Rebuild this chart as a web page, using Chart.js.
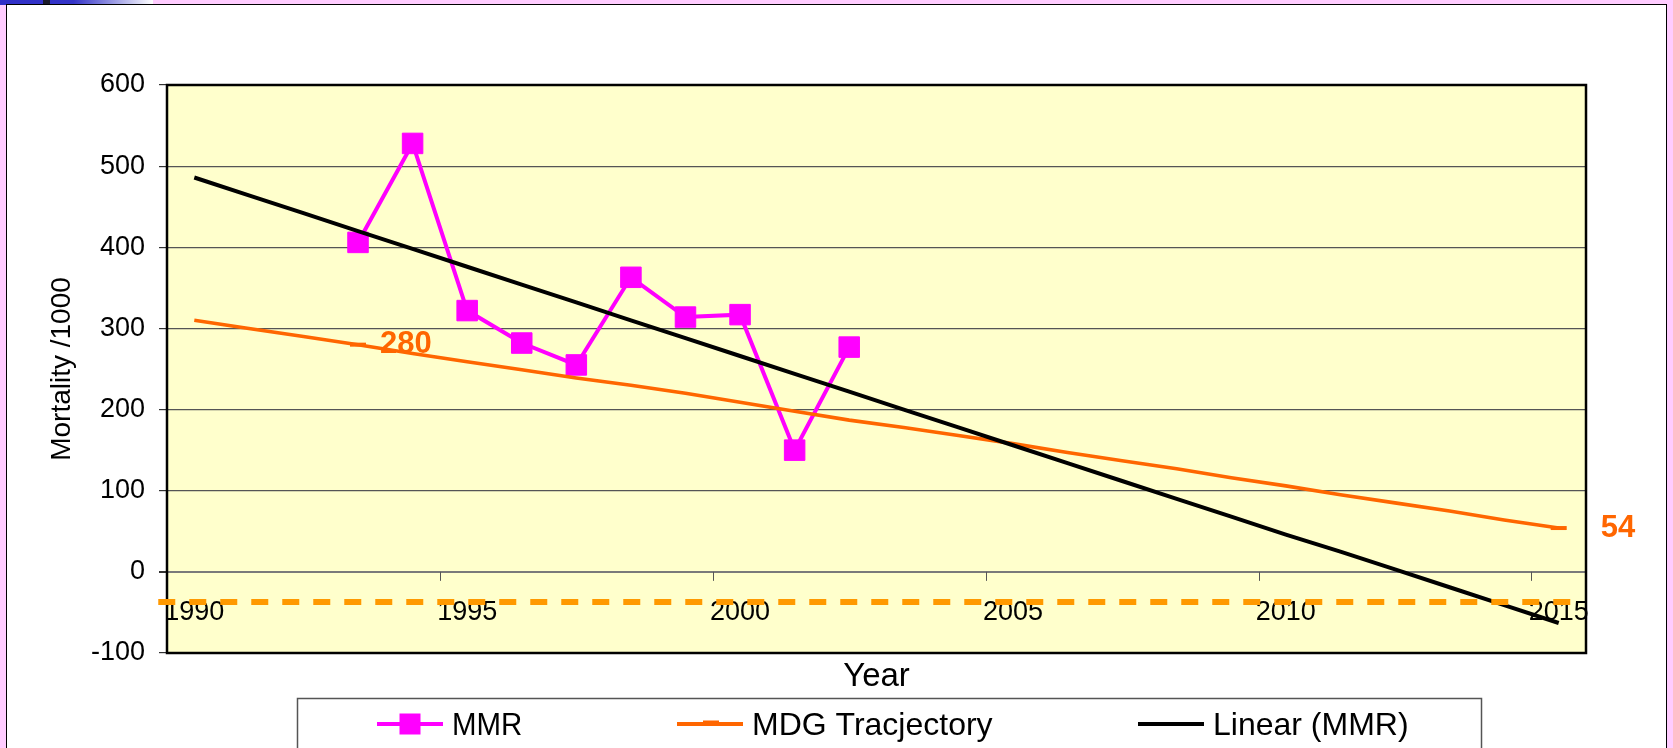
<!DOCTYPE html>
<html><head><meta charset="utf-8">
<script src="https://cdn.jsdelivr.net/npm/chart.js@4.4.1/dist/chart.umd.min.js"></script>
<style>
html,body{margin:0;padding:0;width:1673px;height:748px;overflow:hidden;background:#FFCCFF;}
#bar{position:absolute;left:0;top:0;width:153px;height:5px;background:linear-gradient(to right,#3030C8 0%,#3434C8 48%,#ffffff 100%);}
#bar2{position:absolute;left:43px;top:0;width:7px;height:5px;background:#1a1a2a;}
#panel{position:absolute;left:6px;top:4px;width:1659px;height:800px;background:#fff;border:1px solid #000;}
canvas{position:absolute;left:0;top:0;}
</style></head><body>
<div id="bar"></div><div id="bar2"></div><div id="panel"></div>
<canvas id="c" width="1673" height="748"></canvas>
<script>
// ---- data ----
const years = [1990,1991,1992,1993,1994,1995,1996,1997,1998,1999,2000,2001,2002,2003,2004,2005,2006,2007,2008,2009,2010,2011,2012,2013,2014,2015];
const mmrValues = [null,null,null,406,528,322,282,255,363,314,317,150,277,null,null,null,null,null,null,null,null,null,null,null,null,null];
const mdgValues = [310,300,290,280,269,259,249,239,230,220,209,198,187,178,168,158,147,137,127,116,106,95,85,75,64,54];
const linearValues = [486,464,442,420,398,376,354,332,310,288,266,244,222,200,178,156,134,112,90,68,46,25,3,-19,-41,-63];
const targetLineX = [1989.34, 2015.33];
const targetLineY = [-37, -37];
const xTickYears = [1990,1995,2000,2005,2010,2015];
const labelledMdgIdx = [3, 25];
const seriesNames = ['MMR','MDG Tracjectory','Linear (MMR)'];

const FAM = '"Liberation Sans", Arial, Helvetica, sans-serif';
const toXY = vals => years.map((yr,i)=>({x:yr,y:vals[i]}));

const deco = {
  id:'deco',
  beforeDraw(chart){
    const {ctx, chartArea:a} = chart;
    ctx.save();
    ctx.fillStyle = '#FFFFCC';
    ctx.fillRect(a.left, a.top, a.right-a.left, a.bottom-a.top);
    ctx.restore();
  },
  beforeDatasetsDraw(chart){
    const {ctx, chartArea:a, scales:{x,y}} = chart;
    ctx.save();
    // plot frame
    ctx.strokeStyle = '#000'; ctx.lineWidth = 2.5;
    ctx.strokeRect(a.left, a.top, a.right-a.left, a.bottom-a.top);
    // x axis ticks + labels on the zero line
    const y0 = y.getPixelForValue(0);
    ctx.strokeStyle = '#555'; ctx.lineWidth = 1;
    xTickYears.forEach(yr=>{
      if (yr === years[0]) return;
      const px = Math.round(x.getPixelForValue(yr-0.5))+0.5;
      ctx.beginPath(); ctx.moveTo(px, y0); ctx.lineTo(px, y0+9); ctx.stroke();
    });
    ctx.fillStyle = '#000';
    ctx.font = '27px ' + FAM;
    ctx.textAlign = 'center'; ctx.textBaseline = 'alphabetic';
    xTickYears.forEach(yr=>{
      ctx.fillText(String(yr), x.getPixelForValue(yr), y0+48.5);
    });
    // value labels on MDG series
    const meta = chart.getDatasetMeta(1);
    const offs = {3:22, 25:42};
    ctx.fillStyle = '#FF6600';
    ctx.font = 'bold 31px ' + FAM;
    ctx.textAlign = 'left'; ctx.textBaseline = 'middle';
    labelledMdgIdx.forEach(i=>{
      const p = meta.data[i];
      ctx.fillText(String(mdgValues[i]), p.x + offs[i], p.y);
    });
    ctx.restore();
  },
  afterDraw(chart){
    const {ctx} = chart;
    const ds = chart.data.datasets;
    ctx.save();
    // legend box
    ctx.strokeStyle = '#555'; ctx.lineWidth = 1.5;
    ctx.strokeRect(297.5, 698.5, 1184, 80);
    const starts = [377, 677, 1138];
    const ly = 724;
    ctx.font = '32px ' + FAM; ctx.textBaseline = 'alphabetic'; ctx.textAlign = 'left';
    for (let i=0;i<3;i++){
      const d = ds[i], sx = starts[i];
      ctx.strokeStyle = d.borderColor; ctx.lineWidth = 4; ctx.lineCap = 'butt';
      ctx.beginPath(); ctx.moveTo(sx, ly); ctx.lineTo(sx+66, ly); ctx.stroke();
      if (i===0){ ctx.fillStyle = d.borderColor; ctx.fillRect(sx+22.5, ly-10.5, 21, 21); }
      if (i===1){ ctx.fillStyle = d.borderColor; ctx.fillRect(sx+26, ly-3.5, 16, 5); }
      ctx.fillStyle = '#000';
      ctx.save(); ctx.translate(sx+75, 735); ctx.scale(i===0?0.92:1,1);
      ctx.fillText(d.label, 0, 0); ctx.restore();
    }
    ctx.restore();
  }
};

new Chart(document.getElementById('c'), {
  type:'line',
  data:{
    datasets:[
      { label:seriesNames[0], data:toXY(mmrValues), borderColor:'#FF00FF', backgroundColor:'#FF00FF',
        borderWidth:4, pointStyle:'rect', pointRadius:14.5, pointBorderWidth:1, pointBorderColor:'#FF00FF',
        pointBackgroundColor:'#FF00FF', spanGaps:false, order:2 },
      { label:seriesNames[1], data:toXY(mdgValues), borderColor:'#FF6600', backgroundColor:'#FF6600',
        borderWidth:3.6, pointStyle:'line', pointBorderColor:'#FF6600', pointBorderWidth:4,
        pointRadius: c => labelledMdgIdx.includes(c.dataIndex) ? 8 : 0, order:1 },
      { label:seriesNames[2], data:toXY(linearValues), borderColor:'#000000', backgroundColor:'#000000',
        borderWidth:4, pointRadius:0, order:0 },
      { label:'', data:targetLineX.map((v,i)=>({x:v,y:targetLineY[i]})), borderColor:'#FF9900',
        borderWidth:6, borderDash:[17,14], pointRadius:0, clip:false, order:-1 }
    ]
  },
  options:{
    responsive:false, animation:false, events:[],
    layout:{padding:{left:0, right:87, top:85, bottom:0}},
    plugins:{legend:{display:false}, tooltip:{enabled:false}},
    scales:{
      x:{ type:'linear', min:1989.5, max:2015.5,
        ticks:{display:false}, grid:{display:false}, border:{display:false},
        title:{display:true, text:'Year', color:'#000', font:{family:FAM, size:33}, padding:{top:0,bottom:51}},
        afterFit(s){ s.height = 95; } },
      y:{ min:-100, max:600,
        ticks:{stepSize:100, color:'#000', font:{family:FAM, size:27}, padding:14},
        grid:{ color: c => (c.tick && c.tick.value===0) ? '#7a7a7a' : '#555555',
               lineWidth: c => (c.tick && c.tick.value===0) ? 2 : 1.2,
               tickLength:8, tickColor:'#333', drawTicks:true },
        border:{display:false},
        title:{display:true, text:'Mortality /1000', color:'#000', font:{family:FAM, size:28}, padding:{top:45.5,bottom:0}},
        afterFit(s){ s.width = 167; } }
    }
  },
  plugins:[deco]
});
</script>
</body></html>
